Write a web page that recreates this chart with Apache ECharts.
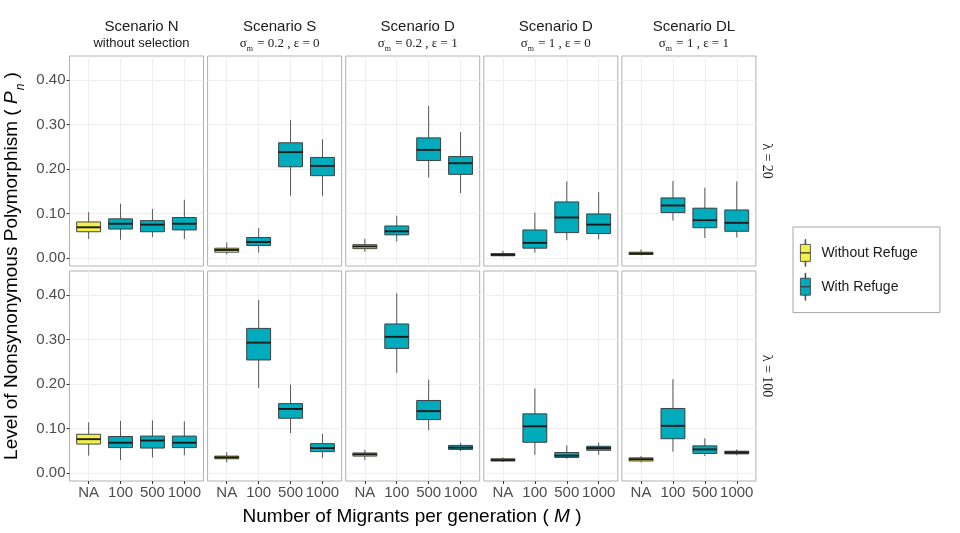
<!DOCTYPE html>
<html>
<head>
<meta charset="utf-8">
<script src="https://cdn.jsdelivr.net/npm/echarts@6/dist/echarts.min.js"></script>
<style>html,body{margin:0;padding:0;background:#fff}#chart{width:960px;height:533px}</style>
</head>
<body>
<div id="chart"></div>
<script>
// ---- data: each box = [min, Q1, median, Q3, max] for categories NA, 100, 500, 1000 ----
const categories = ['NA', '100', '500', '1000'];
const refugeGroup = ['Without Refuge', 'With Refuge', 'With Refuge', 'With Refuge'];
const yTicks = [0, 0.1, 0.2, 0.3, 0.4];

const scenarioTitles = ['Scenario N', 'Scenario S', 'Scenario D', 'Scenario D', 'Scenario DL'];
const scenarioSubtitles = [
  'without selection',
  '{a|σ}{b|m}{a| = 0.2 , ε = 0}',
  '{a|σ}{b|m}{a| = 0.2 , ε = 1}',
  '{a|σ}{b|m}{a| = 1 , ε = 0}',
  '{a|σ}{b|m}{a| = 1 , ε = 1}'
];
const rowLabels = ['λ = 20', 'λ = 100'];

// lambda = 20
const l20_N   = [[0.043,0.059,0.069,0.081,0.103],[0.041,0.065,0.077,0.088,0.122],[0.047,0.059,0.075,0.084,0.110],[0.043,0.063,0.077,0.091,0.131]];
const l20_S   = [[0.008,0.013,0.018,0.022,0.035],[0.012,0.028,0.036,0.046,0.067],[0.140,0.205,0.238,0.259,0.310],[0.140,0.185,0.207,0.226,0.267]];
const l20_D02 = [[0.014,0.021,0.026,0.030,0.043],[0.037,0.052,0.060,0.072,0.095],[0.181,0.219,0.243,0.270,0.342],[0.146,0.188,0.213,0.228,0.283]];
const l20_D1  = [[0.004,0.005,0.007,0.010,0.016],[0.012,0.022,0.034,0.063,0.102],[0.040,0.057,0.091,0.126,0.172],[0.042,0.055,0.075,0.099,0.148]];
const l20_DL  = [[0.006,0.008,0.010,0.013,0.019],[0.084,0.102,0.118,0.135,0.173],[0.045,0.068,0.085,0.112,0.158],[0.046,0.060,0.079,0.108,0.172]];
// lambda = 100
const l100_N   = [[0.039,0.065,0.076,0.087,0.114],[0.029,0.057,0.068,0.082,0.117],[0.035,0.056,0.073,0.083,0.118],[0.040,0.057,0.068,0.083,0.116]];
const l100_S   = [[0.024,0.032,0.035,0.038,0.047],[0.191,0.254,0.293,0.325,0.389],[0.090,0.123,0.144,0.156,0.199],[0.034,0.048,0.056,0.066,0.088]];
const l100_D02 = [[0.029,0.038,0.042,0.045,0.052],[0.225,0.280,0.306,0.335,0.404],[0.096,0.120,0.139,0.163,0.210],[0.049,0.053,0.057,0.062,0.068]];
const l100_D1  = [[0.025,0.027,0.029,0.032,0.035],[0.041,0.069,0.105,0.133,0.190],[0.032,0.035,0.039,0.046,0.062],[0.041,0.051,0.056,0.060,0.068]];
const l100_DL  = [[0.024,0.027,0.031,0.034,0.038],[0.048,0.077,0.106,0.145,0.211],[0.038,0.044,0.053,0.061,0.078],[0.040,0.043,0.046,0.049,0.053]];

const panels = [
  [l20_N, l20_S, l20_D02, l20_D1, l20_DL],
  [l100_N, l100_S, l100_D02, l100_D1, l100_DL]
];

// ---- styling / layout ----
const FONT = "'Liberation Sans', Arial, Helvetica, sans-serif";
const SERIF = "'Liberation Serif', 'Times New Roman', serif";
const COLORS = {'Without Refuge': '#f3f04c', 'With Refuge': '#00abbb'};
const BOX_W = 0.75;
const P_LEFT = 69.5, P_STEP = 138.1, P_W = 134, P_H = 210;
const ROW_TOP = [56, 271];

function renderBox(params, api) {
  const x = api.value(0);
  const lo = api.coord([x, api.value(1)]);
  const q1 = api.coord([x, api.value(2)]);
  const md = api.coord([x, api.value(3)]);
  const q3 = api.coord([x, api.value(4)]);
  const hi = api.coord([x, api.value(5)]);
  const half = api.size([BOX_W, 0])[0] / 2;
  const fill = api.visual('color');
  return {
    type: 'group',
    children: [
      {type: 'line', shape: {x1: lo[0], y1: lo[1], x2: q1[0], y2: q1[1]}, style: {stroke: '#444', lineWidth: 0.9}},
      {type: 'line', shape: {x1: q3[0], y1: q3[1], x2: hi[0], y2: hi[1]}, style: {stroke: '#444', lineWidth: 0.9}},
      {type: 'rect', shape: {x: q3[0] - half, y: q3[1], width: half * 2, height: q1[1] - q3[1]},
        style: {fill: fill, stroke: '#333', lineWidth: 0.9}},
      {type: 'line', shape: {x1: md[0] - half, y1: md[1], x2: md[0] + half, y2: md[1]},
        style: {stroke: '#1a1a1a', lineWidth: 1.9}}
    ]
  };
}

const grids = [], xAxes = [], yAxes = [], series = [], titles = [];
for (let r = 0; r < 2; r++) {
  for (let c = 0; c < 5; c++) {
    const idx = r * 5 + c;
    grids.push({left: P_LEFT + c * P_STEP, top: ROW_TOP[r], width: P_W, height: P_H,
      show: true, borderColor: '#b0b0b0', borderWidth: 1, backgroundColor: '#fff', containLabel: false});
    xAxes.push({
      type: 'value', gridIndex: idx, min: 0.4, max: 4.6, position: 'bottom',
      axisLine: {show: false, onZero: false},
      axisTick: {show: r === 1, customValues: [1, 2, 3, 4], length: 3, lineStyle: {color: '#333'}},
      axisLabel: {show: r === 1, customValues: [1, 2, 3, 4], margin: 4, fontSize: 15, color: '#4d4d4d',
        fontFamily: FONT, formatter: v => categories[Math.round(v) - 1]},
      splitLine: {show: true, lineStyle: {color: '#efefef', width: 1}}
    });
    yAxes.push({
      type: 'value', gridIndex: idx, min: -0.018, max: 0.454, position: 'left',
      axisLine: {show: false, onZero: false},
      axisTick: {show: c === 0, customValues: yTicks, length: 3, lineStyle: {color: '#333'}},
      axisLabel: {show: c === 0, customValues: yTicks, margin: 4, fontSize: 15, color: '#4d4d4d',
        fontFamily: FONT, formatter: v => v.toFixed(2)},
      splitLine: {show: true, lineStyle: {color: '#efefef', width: 1}}
    });
    const stats = panels[r][c];
    ['Without Refuge', 'With Refuge'].forEach(name => {
      const data = [];
      stats.forEach((s, i) => { if (refugeGroup[i] === name) data.push([i + 1].concat(s)); });
      series.push({
        type: 'custom', name: name, xAxisIndex: idx, yAxisIndex: idx,
        itemStyle: {color: COLORS[name]},
        encode: {x: 0, y: [1, 2, 3, 4, 5]},
        renderItem: renderBox, data: data, silent: true
      });
    });
  }
}
for (let c = 0; c < 5; c++) {
  titles.push({
    text: scenarioTitles[c], subtext: scenarioSubtitles[c],
    left: P_LEFT + c * P_STEP + P_W / 2, top: 14, textAlign: 'center', itemGap: 3,
    textStyle: {fontSize: 15, fontWeight: 'normal', color: '#1a1a1a', fontFamily: FONT},
    subtextStyle: {fontSize: 13, color: '#1a1a1a', fontFamily: FONT,
      rich: {
        a: {fontSize: 13, fontFamily: SERIF, color: '#1a1a1a', verticalAlign: 'top', lineHeight: 14},
        b: {fontSize: 8, fontFamily: SERIF, color: '#1a1a1a', verticalAlign: 'top', lineHeight: 8, padding: [8, 1, 0, 0]}
      }}
  });
}

const legendIcon = 'path://M4.7,0h0.6v5h-0.6Z M0,5h10v8.5h-10Z M0,13.5h10v8.5h-10Z M4.7,22h0.6v5h-0.6Z';

const option = {
  animation: false,
  backgroundColor: '#fff',
  title: titles,
  grid: grids, xAxis: xAxes, yAxis: yAxes, series: series,
  legend: {
    data: ['Without Refuge', 'With Refuge'],
    orient: 'vertical', left: 793, top: 227,
    padding: [12, 22, 12, 7], itemGap: 6, itemWidth: 10, itemHeight: 27,
    icon: legendIcon,
    itemStyle: {borderColor: '#333', borderWidth: 0.8},
    borderColor: '#a6a6a6', borderWidth: 1,
    textStyle: {fontSize: 14, color: '#1a1a1a', fontFamily: FONT, padding: [0, 0, 0, 6]},
    selectedMode: false
  },
  graphic: [
    {type: 'text', x: 767, y: ROW_TOP[0] + P_H / 2, rotation: -Math.PI / 2,
      style: {text: rowLabels[0], font: '14px ' + SERIF, fill: '#1a1a1a', align: 'center', verticalAlign: 'middle'}},
    {type: 'text', x: 767, y: ROW_TOP[1] + P_H / 2, rotation: -Math.PI / 2,
      style: {text: rowLabels[1], font: '14px ' + SERIF, fill: '#1a1a1a', align: 'center', verticalAlign: 'middle'}},
    {type: 'text', x: 13, y: 266, rotation: Math.PI / 2,
      style: {text: '{t|Level of Nonsynonymous Polymorphism ( }{i|P}{s|n}{t| )}', fontSize: 19, fontFamily: FONT,
        fill: '#000', align: 'center', verticalAlign: 'middle',
        rich: {t: {fontSize: 19, fontFamily: FONT, verticalAlign: 'top', lineHeight: 22},
               i: {fontSize: 19, fontStyle: 'italic', fontFamily: FONT, verticalAlign: 'top', lineHeight: 22},
               s: {fontSize: 12, fontStyle: 'italic', fontFamily: FONT, verticalAlign: 'top', lineHeight: 12, padding: [13, 0, 0, 1]}}}},
    {type: 'text', x: 412, y: 517,
      style: {text: 'Number of Migrants per generation ( {i|M} )', fontSize: 19, fontFamily: FONT,
        fill: '#000', align: 'center', verticalAlign: 'middle',
        rich: {i: {fontSize: 19, fontStyle: 'italic', fontFamily: FONT}}}}
  ]
};

const chart = echarts.init(document.getElementById('chart'), null, {renderer: 'canvas'});
chart.setOption(option);
</script>
</body>
</html>
